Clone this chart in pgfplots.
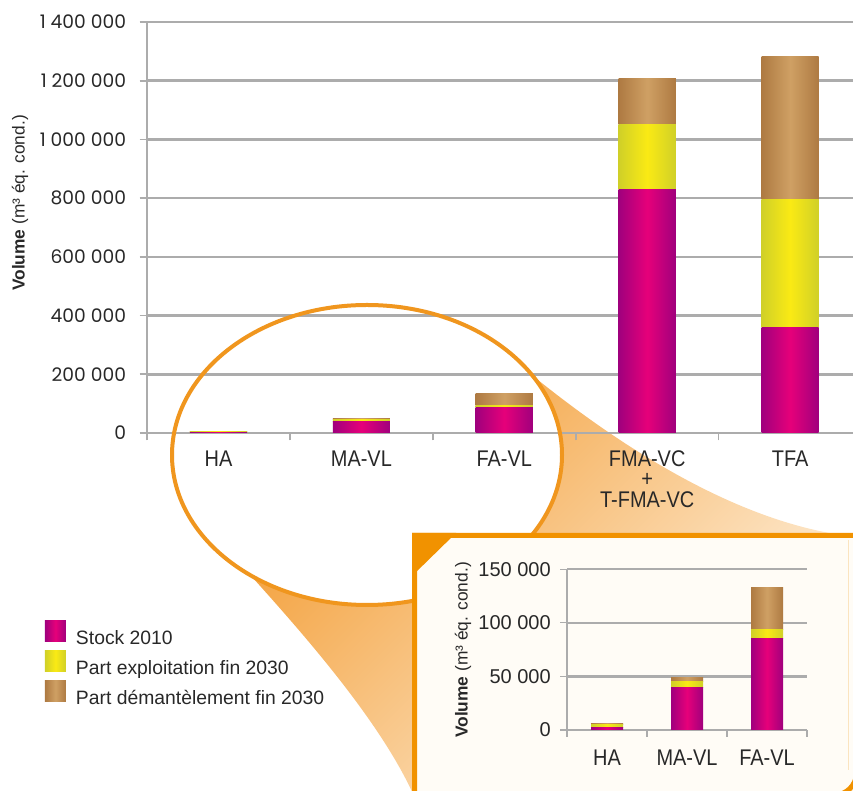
\documentclass[border=0pt]{standalone}
\usepackage{pgfplots}
\pgfplotsset{compat=1.18}
\usepackage{fontspec}
\setmainfont{Liberation Sans}
\newfontfamily\condfont[FakeStretch=0.88]{Liberation Sans}
\newfontfamily\tickfont{Poppins}
\definecolor{magE}{RGB}{160,0,125}
\definecolor{magM}{RGB}{230,0,122}
\definecolor{yelE}{RGB}{208,208,40}
\definecolor{yelM}{RGB}{250,234,20}
\definecolor{brnE}{RGB}{174,122,66}
\definecolor{brnM}{RGB}{207,160,100}
\definecolor{gridgray}{RGB}{172,172,172}
\definecolor{textgray}{RGB}{40,40,40}
\definecolor{boxorange}{RGB}{241,146,0}
\definecolor{ellorange}{RGB}{240,150,30}
\definecolor{funA}{RGB}{243,158,55}
\definecolor{funB}{RGB}{255,246,232}
\definecolor{cream}{RGB}{255,252,246}
\pgfplotsset{
  sqlegend/.style={legend image code/.code={\path[##1] (0pt,-2.5pt) rectangle (15.75pt,13.25pt);}},
  magS/.style={draw=none, left color=magE, right color=magE, middle color=magM},
  yelS/.style={draw=none, left color=yelE, right color=yelE, middle color=yelM},
  brnS/.style={draw=none, left color=brnE, right color=brnE, middle color=brnM},
  mainframe/.style={at={(110.25pt,268.5pt)}, anchor=south west,
    scale only axis, width=529.5pt, height=308.25pt,
    xmin=-0.5, xmax=4.44, ymin=0, ymax=1400000, enlargelimits=false, clip=false},
  insetframe/.style={at={(425.25pt,45.75pt)}, anchor=south west,
    scale only axis, width=180pt, height=120.5pt,
    xmin=-0.5, xmax=2.5, ymin=0, ymax=150000, enlargelimits=false, clip=false},
  barlayer/.style={hide axis, ybar stacked, bar width=0.4},
}

\begin{document}
\begin{tikzpicture}
\path[use as bounding box] (0,0) rectangle (639.75pt,593.25pt);
\begin{scope}[x=0.75pt,y=-0.75pt,shift={(0,593.25pt)}]
  \path[top color=funA, bottom color=funB, shading angle=45]
    (533,376) .. controls (600,430) and (730,525) .. (858,537)
    -- (858,796) -- (414,796)
    .. controls (380,720) and (300,630) .. (243,567)
    -- (367,455) -- cycle;
  \fill[white] (367,455) ellipse [x radius=195, y radius=150];
  \node[rotate=90, font=\fontsize{13}{15}\selectfont, text=textgray] at (20,203) {\textbf{Volume} (m³ éq. cond.)};
\end{scope}

% main frame, grid, labels, legend
\begin{axis}[
  mainframe,
  axis x line*=bottom, axis y line*=left,
  axis line style={draw=gridgray, line width=2.2pt, -},
  ytick={0,200000,400000,600000,800000,1000000,1200000,1400000},
  yticklabels={0,200 000,400 000,600 000,800 000,1 000 000,1 200 000,1 400 000},
  scaled y ticks=false,
  ymajorgrids, grid style={draw=gridgray, line width=2pt},
  tick align=outside, major tick length=5.5pt,
  tick style={draw=gridgray, line width=1.2pt},
  xtick={-0.5,0.5,1.5,2.5,3.5}, xticklabels={},
  extra x ticks={0,1,2,3,4},
  extra x tick labels={HA,MA-VL,FA-VL,{FMA-VC\\+\\T-FMA-VC},TFA},
  extra x tick style={major tick length=0pt},
  xticklabel style={font=\condfont\fontsize{17}{15.4}\selectfont, text=textgray, align=center, anchor=north, inner sep=0pt, yshift=-13pt},
  yticklabel style={font=\tickfont\fontsize{14}{16}\selectfont, text=textgray, inner sep=0pt, xshift=-10pt},
  legend style={at={(-0.1445,-0.4574)}, anchor=north west, draw=none, fill=none,
    inner sep=0pt, outer sep=0pt, font=\fontsize{14.5}{16}\selectfont, text=textgray,
    row sep=3pt, nodes={inner sep=0pt},
    /tikz/every odd column/.append style={column sep=7.5pt}},
  legend cell align=left,
]
\addlegendimage{magS, sqlegend}
\addlegendentry{Stock 2010}
\addlegendimage{yelS, sqlegend}
\addlegendentry{Part exploitation fin 2030}
\addlegendimage{brnS, sqlegend}
\addlegendentry{Part démantèlement fin 2030}
\end{axis}

% main bars: one layer per category (stock 2010, exploitation, demantelement)
\begin{axis}[mainframe, barlayer]
\addplot[magS] coordinates {(0,2700)};
\addplot[yelS] coordinates {(0,2700)};
\addplot[brnS] coordinates {(0,400)};
\end{axis}
\begin{axis}[mainframe, barlayer]
\addplot[magS] coordinates {(1,39500)};
\addplot[yelS] coordinates {(1,6200)};
\addplot[brnS] coordinates {(1,3100)};
\end{axis}
\begin{axis}[mainframe, barlayer]
\addplot[magS] coordinates {(2,85600)};
\addplot[yelS] coordinates {(2,8400)};
\addplot[brnS] coordinates {(2,39200)};
\end{axis}
\begin{axis}[mainframe, barlayer]
\addplot[magS] coordinates {(3,831000)};
\addplot[yelS] coordinates {(3,221000)};
\addplot[brnS] coordinates {(3,154000)};
\end{axis}
\begin{axis}[mainframe, barlayer]
\addplot[magS] coordinates {(4,361000)};
\addplot[yelS] coordinates {(4,436000)};
\addplot[brnS] coordinates {(4,484000)};
\end{axis}

\begin{scope}[x=0.75pt,y=-0.75pt,shift={(0,593.25pt)}]
  \draw[ellorange, line width=3pt] (367,455) ellipse [x radius=195, y radius=150];
  \draw[boxorange, line width=3.75pt, fill=cream]
    (414.5,535.5) -- (856.5,535.5) -- (856.5,773)
    .. controls (856.5,785) and (846.5,795) .. (834.5,795)
    -- (414.5,795) -- cycle;
  \draw[boxorange!25, line width=1pt] (848.5,540) -- (848.5,770);
  \fill[boxorange] (412,533) -- (456,533) -- (412,576) -- cycle;
  \node[rotate=90, font=\fontsize{13}{15}\selectfont, text=textgray] at (463,650) {\textbf{Volume} (m³ éq. cond.)};
\end{scope}

% inset frame
\begin{axis}[
  insetframe,
  axis x line*=bottom, axis y line*=left,
  axis line style={draw=gridgray, line width=1pt, -},
  ytick={0,50000,100000,150000},
  yticklabels={0,50 000,100 000,150 000},
  scaled y ticks=false,
  ymajorgrids, grid style={draw=gridgray, line width=1.6pt},
  tick align=outside, major tick length=5pt,
  tick style={draw=gridgray, line width=0.9pt},
  xtick={-0.5,0.5,1.5,2.5}, xticklabels={},
  extra x ticks={0,1,2},
  extra x tick labels={HA,MA-VL,FA-VL},
  extra x tick style={major tick length=0pt},
  xticklabel style={font=\condfont\fontsize{17}{15.4}\selectfont, text=textgray, anchor=north, inner sep=0pt, yshift=-15pt},
  yticklabel style={font=\fontsize{15}{17}\selectfont, text=textgray, inner sep=0pt, xshift=-7pt},
]
\end{axis}
% inset bars
\begin{axis}[insetframe, barlayer]
\addplot[magS] coordinates {(0,2700)};
\addplot[yelS] coordinates {(0,2700)};
\addplot[brnS] coordinates {(0,400)};
\end{axis}
\begin{axis}[insetframe, barlayer]
\addplot[magS] coordinates {(1,39500)};
\addplot[yelS] coordinates {(1,6200)};
\addplot[brnS] coordinates {(1,3100)};
\end{axis}
\begin{axis}[insetframe, barlayer]
\addplot[magS] coordinates {(2,85600)};
\addplot[yelS] coordinates {(2,8400)};
\addplot[brnS] coordinates {(2,39200)};
\end{axis}
\end{tikzpicture}
\end{document}
